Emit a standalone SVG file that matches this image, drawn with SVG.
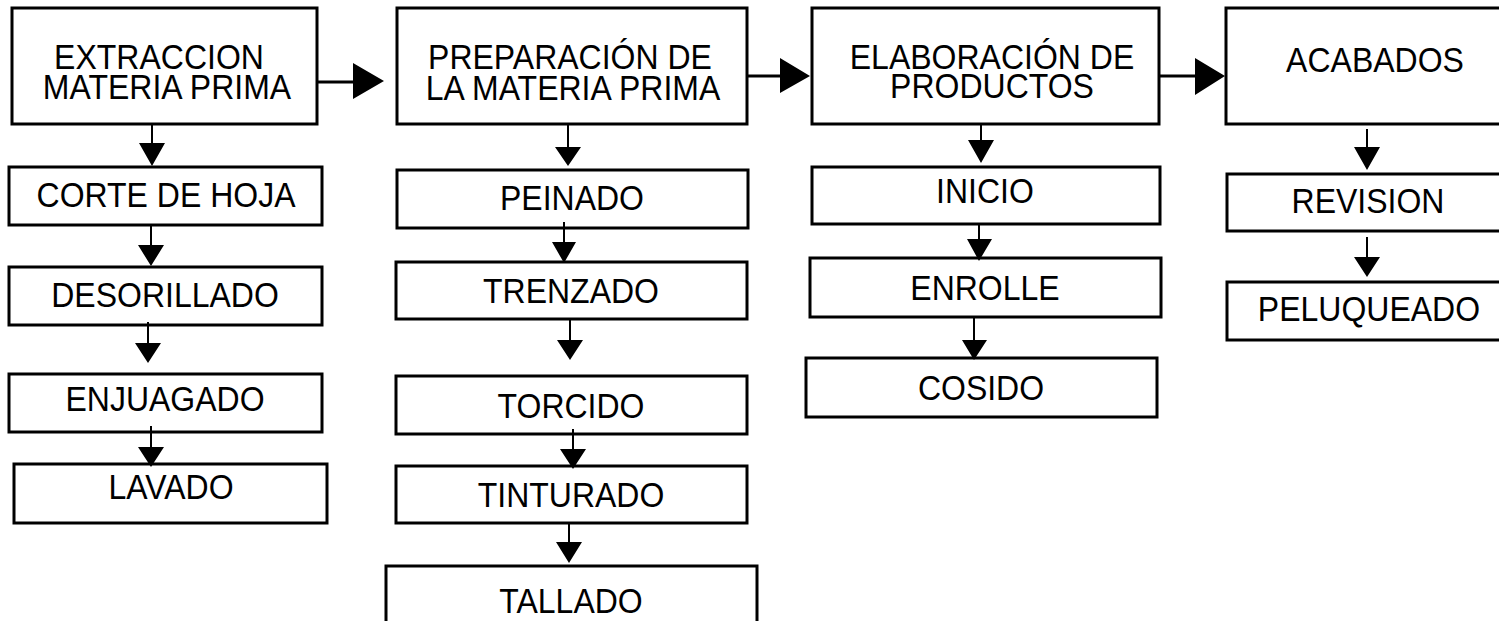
<svg xmlns="http://www.w3.org/2000/svg" width="1499" height="621" viewBox="0 0 1499 621">
<style>
.box{fill:#fff;stroke:#000;stroke-width:3}
.t{font-family:"Liberation Sans",Arial,sans-serif;font-size:32px;fill:#000;text-anchor:middle}
.ln{stroke:#000;stroke-width:2;fill:none}
.hl{stroke:#000;stroke-width:3;fill:none}
.hd{fill:#000;stroke:none}
</style>
<rect width="1499" height="621" fill="#fff"/>
<g id="extraccion"><rect class="box" x="12" y="8" width="305" height="116"/>
<text class="t" transform="translate(159,69) scale(1,1.12)">EXTRACCION</text>
<text class="t" transform="translate(167,99) scale(1,1.12)">MATERIA PRIMA</text></g>
<g id="corte"><rect class="box" x="9" y="167" width="313" height="58"/><text class="t" transform="translate(166,207) scale(1,1.12)">CORTE DE HOJA</text></g>
<g id="desorillado"><rect class="box" x="9" y="267" width="313" height="58"/><text class="t" transform="translate(165,307) scale(1,1.12)">DESORILLADO</text></g>
<g id="enjuagado"><rect class="box" x="9" y="374" width="313" height="58"/><text class="t" transform="translate(165,411) scale(1,1.12)">ENJUAGADO</text></g>
<g id="lavado"><rect class="box" x="14" y="464" width="313" height="59"/><text class="t" transform="translate(171,499) scale(1,1.12)">LAVADO</text></g>

<g id="preparacion"><rect class="box" x="397" y="8" width="350" height="116"/>
<text class="t" transform="translate(570,69) scale(1,1.12)">PREPARACIÓN DE</text>
<text class="t" transform="translate(573,100) scale(1,1.12)">LA MATERIA PRIMA</text></g>
<g id="peinado"><rect class="box" x="397" y="170" width="351" height="58"/><text class="t" transform="translate(572,210) scale(1,1.12)">PEINADO</text></g>
<g id="trenzado"><rect class="box" x="396" y="262" width="351" height="57"/><text class="t" transform="translate(571,303) scale(1,1.12)">TRENZADO</text></g>
<g id="torcido"><rect class="box" x="396" y="376" width="351" height="58"/><text class="t" transform="translate(571,418) scale(1,1.12)">TORCIDO</text></g>
<g id="tinturado"><rect class="box" x="396" y="466" width="351" height="57"/><text class="t" transform="translate(571,507) scale(1,1.12)">TINTURADO</text></g>
<g id="tallado"><rect class="box" x="386" y="566" width="371" height="70"/><text class="t" transform="translate(571,613) scale(1,1.12)">TALLADO</text></g>

<g id="elaboracion"><rect class="box" x="812" y="8" width="347" height="116"/>
<text class="t" transform="translate(992,69) scale(1,1.12)">ELABORACIÓN DE</text>
<text class="t" transform="translate(992,98) scale(1,1.12)">PRODUCTOS</text></g>
<g id="inicio"><rect class="box" x="812" y="167" width="348" height="57"/><text class="t" transform="translate(985,203) scale(1,1.12)">INICIO</text></g>
<g id="enrolle"><rect class="box" x="810" y="258" width="351" height="59"/><text class="t" transform="translate(985,300) scale(1,1.12)">ENROLLE</text></g>
<g id="cosido"><rect class="box" x="806" y="358" width="351" height="59"/><text class="t" transform="translate(981,400) scale(1,1.12)">COSIDO</text></g>

<g id="acabados"><rect class="box" x="1226" y="8" width="290" height="116"/><text class="t" transform="translate(1375,72) scale(1,1.12)">ACABADOS</text></g>
<g id="revision"><rect class="box" x="1227" y="174" width="290" height="57"/><text class="t" transform="translate(1368,213) scale(1,1.12)">REVISION</text></g>
<g id="peluqueado"><rect class="box" x="1227" y="282" width="290" height="58"/><text class="t" transform="translate(1369,321) scale(1,1.12)">PELUQUEADO</text></g>

<g id="connectors">
<path class="hl" d="M317 82H354M747 76H781M1159 76H1196"/>
<path class="hd" d="M353 63L384 81L353 99ZM780 58L810 76L780 93ZM1195 58L1225 76L1195 95Z"/>
<path class="ln" d="M152 124V144M151 225V246M148 322V344M151 426V448M568 124V148M564 222V243M570 319V341M573 429V450M569 523V543M981 124V141M979 224V240M974 317V341M1367 129V148M1367 237V258"/>
<path class="hd" d="M139 143H165L152 166ZM138 245H164L151 266ZM135 343H161L148 363ZM138 447H164L151 467ZM555 147H581L568 166ZM552 242H576L564 263ZM557 340H583L570 360ZM560 449H586L573 469ZM556 542H582L569 563ZM968 140H994L981 163ZM967 239H992L979 261ZM962 340H987L974 360ZM1354 147H1380L1367 170ZM1354 257H1380L1367 277Z"/>
</g>
</svg>
